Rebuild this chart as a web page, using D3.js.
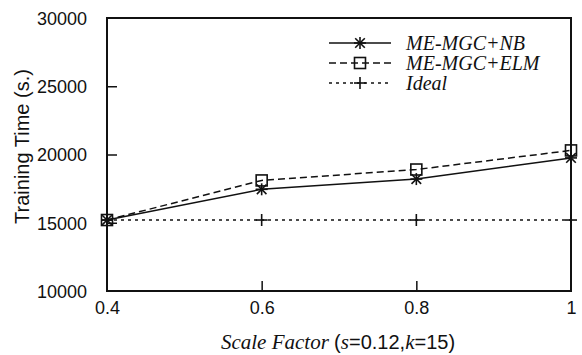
<!DOCTYPE html>
<html>
<head>
<meta charset="utf-8">
<script src="https://cdn.jsdelivr.net/npm/d3@7"></script>
<style>
  html, body { margin: 0; padding: 0; background: #fff; }
  svg { display: block; }
</style>
</head>
<body>
<div id="chart"></div>
<script>
(function () {
  'use strict';

  // Data
  const SCALE_FACTORS = [0.4, 0.6, 0.8, 1.0];
  const NB_TIMES      = [15200, 17450, 18200, 19750];
  const ELM_TIMES     = [15200, 18100, 18900, 20300];
  const IDEAL_TIMES   = [15200, 15200, 15200, 15200];
  const X_TICKS       = [0.4, 0.6, 0.8, 1];
  const Y_TICKS       = [10000, 15000, 20000, 25000, 30000];
  const SERIES_NAMES  = ['ME-MGC+NB', 'ME-MGC+ELM', 'Ideal'];

  const W = 582, H = 355;
  const M = { left: 107, right: 11, top: 18, bottom: 64 };
  const SANS  = "'Liberation Sans', Arial, sans-serif";
  const SERIF = "'Liberation Serif', 'Times New Roman', serif";
  const INK = '#111';

  const svg = d3.select('#chart').append('svg')
    .attr('width', W).attr('height', H);

  const x = d3.scaleLinear().domain([0.4, 1]).range([M.left, W - M.right]);
  const y = d3.scaleLinear().domain([10000, 30000]).range([H - M.bottom, M.top]);

  const series = [
    { name: SERIES_NAMES[0], values: NB_TIMES,    dash: null,  marker: 'star' },
    { name: SERIES_NAMES[1], values: ELM_TIMES,   dash: '7,4', marker: 'square' },
    { name: SERIES_NAMES[2], values: IDEAL_TIMES, dash: '3,4', marker: 'plus' },
  ];

  // Frame
  svg.append('rect')
    .attr('x', x(0.4)).attr('y', y(30000))
    .attr('width', x(1) - x(0.4)).attr('height', y(10000) - y(30000))
    .attr('fill', 'none').attr('stroke', INK).attr('stroke-width', 2);

  // Axes (inner ticks)
  const yAxis = svg.append('g')
    .attr('transform', `translate(${x(0.4)},0)`)
    .call(d3.axisLeft(y).tickValues(Y_TICKS).tickSize(-10).tickPadding(20).tickFormat(d3.format('d')));
  const xAxis = svg.append('g')
    .attr('transform', `translate(0,${y(10000)})`)
    .call(d3.axisBottom(x).tickValues(X_TICKS).tickSize(-10).tickPadding(18).tickFormat(d => d === 1 ? '1' : d3.format('.1f')(d)));

  [yAxis, xAxis].forEach(g => {
    g.select('.domain').remove();
    g.selectAll('.tick line').attr('stroke', INK).attr('stroke-width', 1.5);
    g.selectAll('.tick text')
      .attr('fill', INK)
      .style('font-family', SANS)
      .style('font-size', '18px');
  });
  // hide end ticks that coincide with frame
  yAxis.selectAll('.tick').filter(d => d === 10000 || d === 30000).select('line').remove();
  xAxis.selectAll('.tick').filter(d => d === 0.4 || d === 1).select('line').remove();
  yAxis.selectAll('.tick text').attr('dy', '0.36em');
  xAxis.selectAll('.tick text').attr('dy', '0.3em');

  // Marker drawing
  function drawMarker(g, type, cx, cy) {
    const s = 6;
    if (type === 'star') {
      const p = g.append('g').attr('stroke', INK).attr('stroke-width', 1.6).attr('fill', 'none');
      p.append('line').attr('x1', cx - s).attr('x2', cx + s).attr('y1', cy).attr('y2', cy);
      p.append('line').attr('x1', cx).attr('x2', cx).attr('y1', cy - s).attr('y2', cy + s);
      p.append('line').attr('x1', cx - s * 0.8).attr('x2', cx + s * 0.8).attr('y1', cy - s * 0.8).attr('y2', cy + s * 0.8);
      p.append('line').attr('x1', cx - s * 0.8).attr('x2', cx + s * 0.8).attr('y1', cy + s * 0.8).attr('y2', cy - s * 0.8);
    } else if (type === 'square') {
      g.append('rect').attr('x', cx - 5.5).attr('y', cy - 5.5).attr('width', 11).attr('height', 11)
        .attr('fill', 'none').attr('stroke', INK).attr('stroke-width', 1.6);
    } else {
      const p = g.append('g').attr('stroke', INK).attr('stroke-width', 1.6);
      p.append('line').attr('x1', cx - s).attr('x2', cx + s).attr('y1', cy).attr('y2', cy);
      p.append('line').attr('x1', cx).attr('x2', cx).attr('y1', cy - s).attr('y2', cy + s);
    }
  }

  const line = d3.line().x((d, i) => x(SCALE_FACTORS[i])).y(d => y(d));

  // Draw ideal first so others sit on top
  series.slice().reverse().forEach(s => {
    svg.append('path')
      .datum(s.values)
      .attr('d', line)
      .attr('fill', 'none')
      .attr('stroke', INK)
      .attr('stroke-width', 1.5)
      .attr('stroke-dasharray', s.dash);
    const mg = svg.append('g');
    s.values.forEach((v, i) => drawMarker(mg, s.marker, x(SCALE_FACTORS[i]), y(v)));
  });

  // Legend
  const legend = svg.append('g');
  series.forEach((s, i) => {
    const ly = 43 + i * 20;
    legend.append('line')
      .attr('x1', 329).attr('x2', 391).attr('y1', ly).attr('y2', ly)
      .attr('stroke', INK).attr('stroke-width', 1.5)
      .attr('stroke-dasharray', s.dash);
    drawMarker(legend, s.marker, 360, ly);
    legend.append('text')
      .attr('x', 406).attr('y', ly).attr('dy', '0.35em')
      .attr('fill', INK)
      .style('font-family', SERIF).style('font-style', 'italic').style('font-size', '20px')
      .text(s.name);
  });

  // Y axis title
  svg.append('text')
    .attr('transform', `translate(29,${(y(30000) + y(10000)) / 2 - 8}) rotate(-90)`)
    .attr('text-anchor', 'middle')
    .attr('fill', INK)
    .style('font-family', SANS).style('font-size', '20px')
    .text('Training Time (s.)');

  // X axis title (mixed serif italic / sans)
  const xt = svg.append('text')
    .attr('x', 338).attr('y', 349)
    .attr('text-anchor', 'middle')
    .attr('fill', INK);
  const parts = [
    ['Scale Factor ', SERIF, true], ['(', SANS, false], ['s', SERIF, true],
    ['=0.12,', SANS, false], ['k', SERIF, true], ['=15)', SANS, false],
  ];
  parts.forEach(([t, f, it]) => {
    xt.append('tspan')
      .style('font-family', f)
      .style('font-style', it ? 'italic' : 'normal')
      .style('font-size', f === SERIF ? '21px' : '20px')
      .style('white-space', 'pre')
      .text(t);
  });
})();
</script>
</body>
</html>
